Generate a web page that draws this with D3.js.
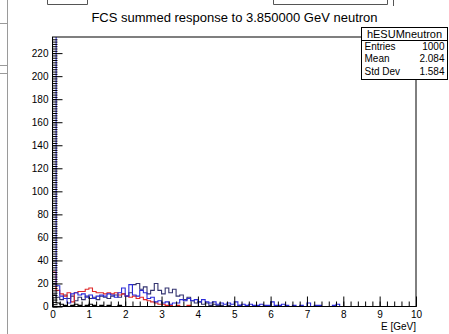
<!DOCTYPE html>
<html>
<head>
<meta charset="utf-8">
<script src="https://cdn.jsdelivr.net/npm/d3@7"></script>
<style>
  html, body { margin: 0; padding: 0; background: #fff; }
  svg { display: block; font-family: "Liberation Sans", Arial, Helvetica, sans-serif; }
</style>
</head>
<body>
<svg id="c" width="449" height="334"></svg>
<script>
// Summed FCS energy response histograms, 100 bins of 0.1 GeV over [0, 10)
const binWidth = 0.1;
const xDomain = [0, 10];
const yDomain = [0, 234];

const hBlack = [10,3,2,1,0,1,2,1,0,1, 2,1,0,1,0,1,0,0,1,0, 0,0,0,0,0,0,0,0,0,0,
  0,0,0,0,0,0,0,0,0,0, 0,0,0,0,0,0,0,0,0,0, 0,0,0,0,0,0,0,0,0,0,
  0,0,0,0,0,0,0,0,0,0, 0,0,0,0,0,0,0,0,0,0, 0,0,0,0,0,0,0,0,0,0, 0,0,0,0,0,0,0,0,0,0];

const hSlate = [20,8,6,10,7,9,5,8,6,9, 7,8,6,9,8,7,9,10,8,11, 9,12,19,20,15,17,11,14,20,14,
  11,16,12,15,9,10,6,8,5,3, 4,2,3,1,2,1,1,0,1,0, 0,1,0,0,0,0,0,0,0,0,
  0,0,0,0,0,0,0,0,0,0, 0,0,0,0,0,0,0,0,0,0, 0,0,0,0,0,0,0,0,0,0, 0,0,0,0,0,0,0,0,0,0];

const hRed = [30,14,11,9,12,4,12,13,13,15, 16,13,12,12,11,12,11,12,10,11, 9,8,9,7,8,6,5,4,3,2,
  2,1,1,0,1,0,0,1,0,0, 0,0,0,0,0,0,0,0,0,0, 0,0,0,0,0,0,0,0,0,0,
  0,0,0,0,0,0,0,0,0,0, 0,0,0,0,0,0,0,0,0,0, 0,0,0,0,0,0,0,0,0,0, 0,0,0,0,0,0,0,0,0,0];

const hBlue = [240,18,9,7,3,11,12,10,11,8, 10,7,9,10,9,11,10,8,12,16, 9,19,10,9,14,12,7,8,4,5,
  3,4,2,3,3,6,5,7,5,6, 4,6,4,3,4,2,3,2,3,2, 4,1,2,1,2,1,1,2,1,1,
  4,1,1,2,1,0,1,0,1,0, 3,0,1,1,0,0,0,1,2,0, 0,0,0,0,0,0,0,0,0,0, 0,0,0,0,0,0,0,0,0,0];

const titleText = "FCS summed response to 3.850000 GeV neutron";
const xTitle = "E [GeV]";
const statName = "hESUMneutron";
const statRows = [["Entries", "1000"], ["Mean", "2.084"], ["Std Dev", "1.584"]];

const svg = d3.select("#c");
const frame = { left: 52.5, right: 416, top: 37, bottom: 306.5 };

const x = d3.scaleLinear().domain(xDomain).range([frame.left, frame.right]);
const y = d3.scaleLinear().domain(yDomain).range([frame.bottom, frame.top]);

// fragments of neighbouring pads on the canvas
const frag = svg.append("g").attr("fill", "none").attr("stroke", "#9a9a9a").attr("stroke-width", 1);
frag.append("line").attr("x1", 7.5).attr("x2", 7.5).attr("y1", 0).attr("y2", 334);
frag.append("path").attr("d", "M0,23.5H7.5");
frag.append("path").attr("d", "M0,65.5H7.5M0,73.5H7.5");
frag.append("path").attr("d", "M47.5,0V4.5H87.5V0").attr("stroke", "#555");
frag.append("path").attr("d", "M273.5,0V4.5H387.5V0").attr("stroke", "#555");
frag.append("line").attr("x1", 393.5).attr("x2", 393.5).attr("y1", 0).attr("y2", 6).attr("stroke", "#555");

// clip the histograms to the frame
svg.append("defs").append("clipPath").attr("id", "frameClip")
  .append("rect").attr("x", frame.left).attr("y", frame.top)
  .attr("width", frame.right - frame.left).attr("height", frame.bottom - frame.top);

function stepPoints(vals) {
  const pts = [[x(0), y(0)]];
  vals.forEach((v, i) => {
    pts.push([x(i * binWidth), y(v)]);
    pts.push([x((i + 1) * binWidth), y(v)]);
  });
  pts.push([x(vals.length * binWidth), y(0)]);
  return pts;
}
const line = d3.line();
const hg = svg.append("g").attr("clip-path", "url(#frameClip)").attr("fill", "none").attr("stroke-width", 1.1);
[[hBlack, "#000000"], [hSlate, "#343470"], [hRed, "#e02828"], [hBlue, "#2a2ad8"]].forEach(([vals, col]) => {
  hg.append("path").attr("d", line(stepPoints(vals))).attr("stroke", col);
});

// frame
svg.append("rect").attr("x", frame.left).attr("y", frame.top)
  .attr("width", frame.right - frame.left).attr("height", frame.bottom - frame.top)
  .attr("fill", "none").attr("stroke", "#000").attr("stroke-width", 1);

// axes, ticks pointing into the frame
const axFont = "10px";
const xMajor = d3.axisBottom(x).tickValues(d3.range(0, 11, 1)).tickSize(-10).tickPadding(3).tickFormat(d3.format("d"));
const xMinor = d3.axisBottom(x).tickValues(d3.range(0, 10.01, 0.2)).tickSize(-5).tickFormat("");
const gx = svg.append("g").attr("transform", `translate(0,${frame.bottom})`);
gx.append("g").call(xMinor);
gx.append("g").call(xMajor);
gx.selectAll(".domain").remove();
gx.selectAll("text").attr("font-size", axFont).attr("font-family", "Liberation Sans, Arial, sans-serif").attr("fill", "#000").attr("dy", "0.85em");

const yMajor = d3.axisLeft(y).tickValues(d3.range(0, 221, 20)).tickSize(-10).tickPadding(4);
const yMinor = d3.axisLeft(y).tickValues(d3.range(0, 233, 2)).tickSize(-5).tickFormat("");
const gy = svg.append("g").attr("transform", `translate(${frame.left},0)`);
gy.append("g").call(yMinor);
gy.append("g").call(yMajor);
gy.selectAll(".domain").remove();
gy.selectAll("text").attr("font-size", axFont).attr("font-family", "Liberation Sans, Arial, sans-serif").attr("fill", "#000");

svg.append("text").attr("x", frame.right).attr("y", 330).attr("text-anchor", "end")
  .attr("font-size", "10px").text(xTitle);

// title
svg.append("text").attr("x", 234.5).attr("y", 22).attr("text-anchor", "middle")
  .attr("font-size", "13px").text(titleText);

// statistics box
const sb = { left: 361.5, right: 447.5, top: 27.5, bottom: 79.5, head: 40.5 };
svg.append("rect").attr("x", sb.left).attr("y", sb.top).attr("width", sb.right - sb.left)
  .attr("height", sb.bottom - sb.top).attr("fill", "#fff").attr("stroke", "#000");
svg.append("line").attr("x1", sb.left).attr("x2", sb.right).attr("y1", sb.head).attr("y2", sb.head).attr("stroke", "#000");
svg.append("text").attr("x", (sb.left + sb.right) / 2).attr("y", 38).attr("text-anchor", "middle")
  .attr("font-size", "11px").text(statName);
statRows.forEach((r, i) => {
  const ty = 50 + i * 12.3;
  svg.append("text").attr("x", sb.left + 3).attr("y", ty).attr("font-size", "10px").text(r[0]);
  svg.append("text").attr("x", sb.right - 3).attr("y", ty).attr("text-anchor", "end").attr("font-size", "10px").text(r[1]);
});
</script>
</body>
</html>
